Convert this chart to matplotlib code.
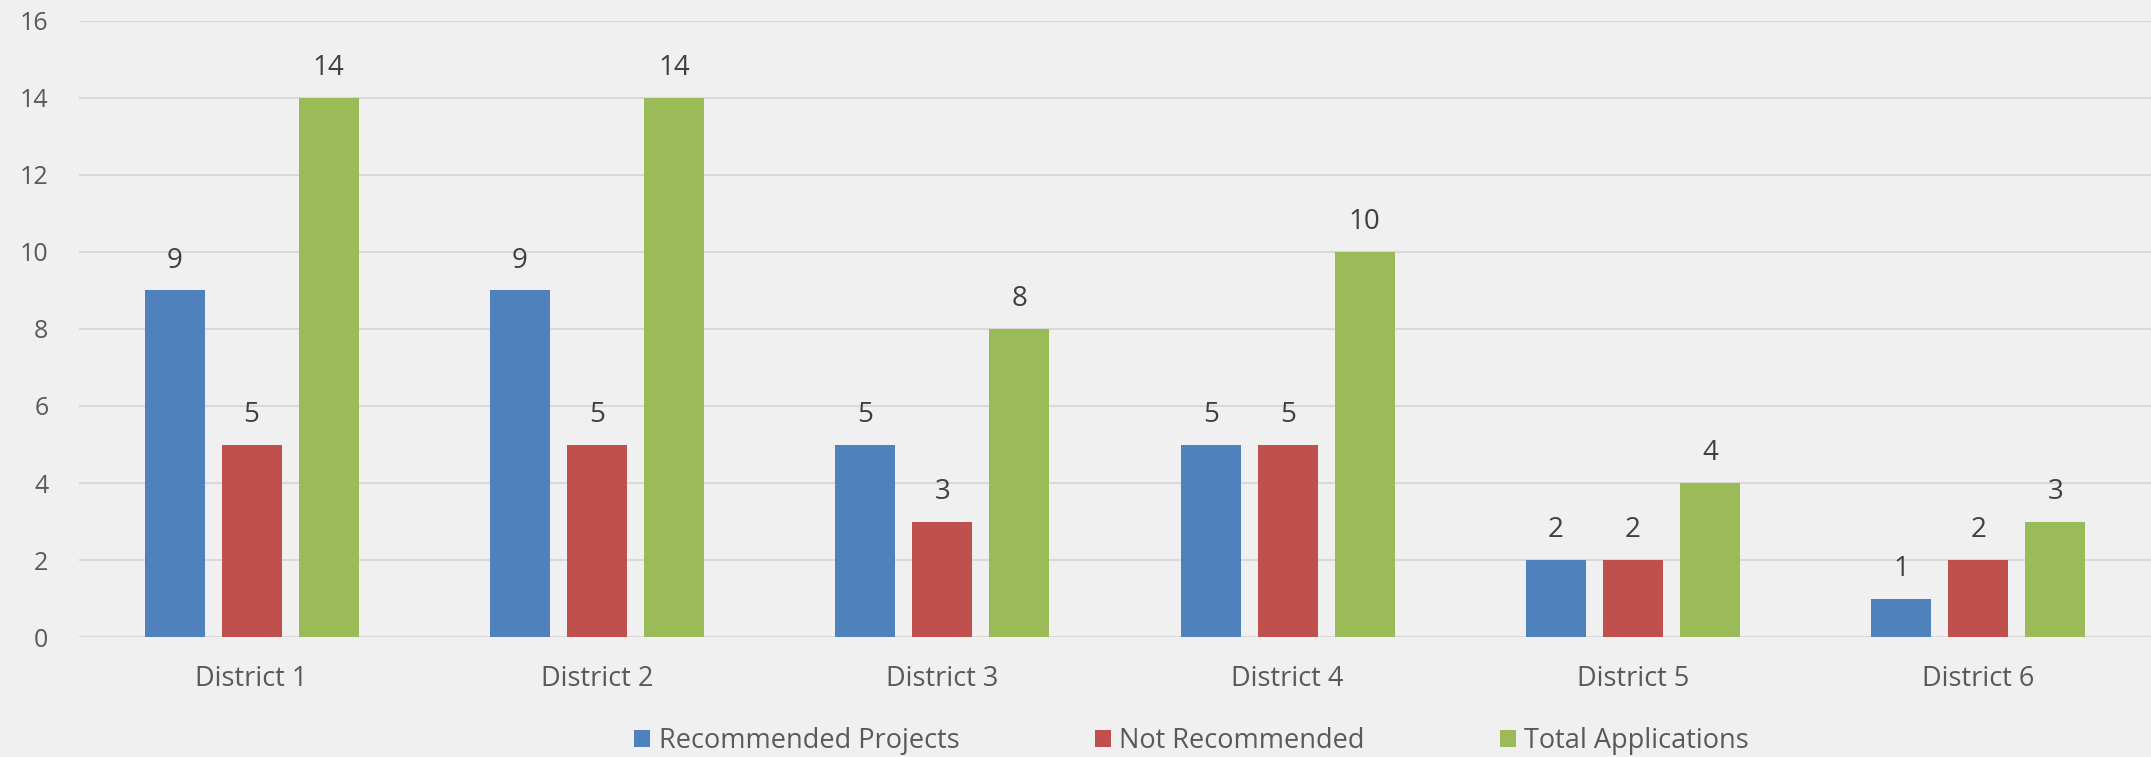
import numpy as np
import matplotlib
matplotlib.use("Agg")
import matplotlib.pyplot as plt

# data
districts = ["District 1", "District 2", "District 3", "District 4", "District 5", "District 6"]
recommended = [9, 9, 5, 5, 2, 1]
not_recommended = [5, 5, 3, 5, 2, 2]
total_apps = [14, 14, 8, 10, 4, 3]
series_names = ["Recommended Projects", "Not Recommended", "Total Applications"]
y_ticks = [0, 2, 4, 6, 8, 10, 12, 14, 16]

colors = ["#4F81BD", "#C0504D", "#9BBB59"]
bg = "#F0F0F0"

plt.rcParams['font.family'] = ['Open Sans', 'DejaVu Sans']

fig = plt.figure(figsize=(21.51, 7.57), dpi=100, facecolor=bg)
ax = fig.add_axes([0.0367, 0.1585, 0.9633, 0.8138])
ax.set_facecolor(bg)

x = np.arange(len(districts))
width = 0.174
step = 0.223

for k, vals in enumerate([recommended, not_recommended, total_apps]):
    pos = x + (k - 1) * step
    ax.bar(pos, vals, width, color=colors[k], label=series_names[k], zorder=3)
    for xi, v in zip(pos, vals):
        ax.annotate(str(v), (xi, v), xytext=(0, 21.5), textcoords="offset points",
                    ha="center", va="center", fontsize=20, color="#404040")

ax.set_xlim(-0.5, len(districts) - 0.5)
ax.set_ylim(0, 16)
ax.set_yticks(y_ticks)
ax.set_xticks(x)
ax.set_xticklabels(districts)
ax.tick_params(axis="both", length=0, labelsize=18, labelcolor="#595959")
ax.tick_params(axis="x", pad=20, labelsize=19.5)
ax.tick_params(axis="y", pad=22)
ax.grid(axis="y", color="#D9D9D9", linewidth=1.5, zorder=0)
for s in ax.spines.values():
    s.set_visible(False)

handles, labels = ax.get_legend_handles_labels()
fig.legend(handles, labels, loc="center", bbox_to_anchor=(0.554, 0.021), ncol=3,
           frameon=False, fontsize=19.5, labelcolor="#595959", handlelength=0.6,
           handleheight=0.6, handletextpad=0.3, columnspacing=5.0)

fig.savefig("out.png", dpi=100, facecolor=bg)
